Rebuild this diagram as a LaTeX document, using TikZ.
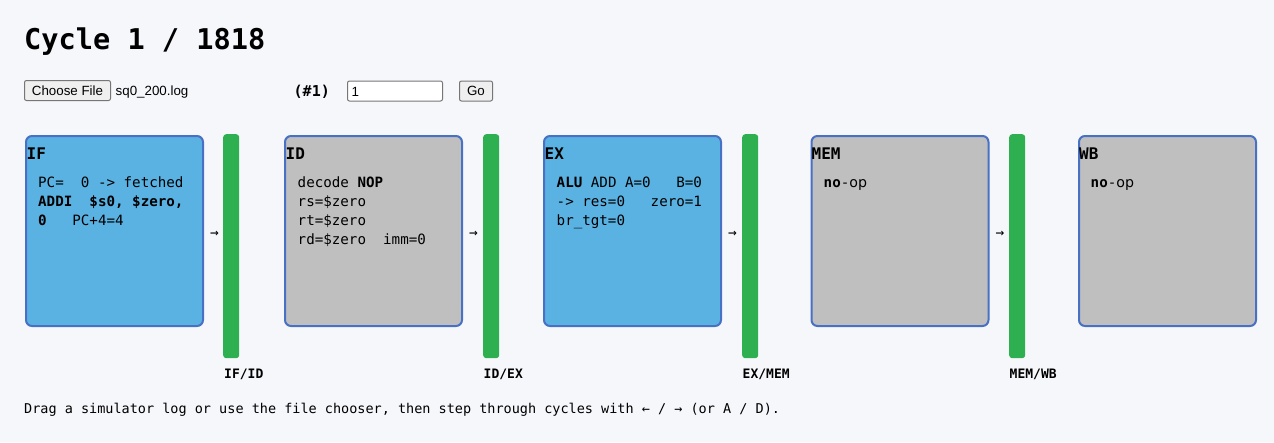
\documentclass[tikz,border=0pt]{standalone}
\usepackage{fontspec}
\usepackage{tikz}
\setmainfont{DejaVu Sans Mono}
\setmonofont{DejaVu Sans Mono}
\setsansfont{DejaVu Sans}
\newfontfamily\uifont{Liberation Sans}
\definecolor{pagebg}{RGB}{246,247,251}
\definecolor{stageblue}{RGB}{90,178,226}
\definecolor{stagegray}{RGB}{191,191,191}
\definecolor{stageedge}{RGB}{72,112,196}
\definecolor{regreen}{RGB}{46,176,80}
\definecolor{btnfill}{RGB}{239,239,239}
\definecolor{btnedge}{RGB}{118,118,118}

\begin{document}
\begin{tikzpicture}[x=1pt,y=-1pt,
	stagebox/.style={draw=stageedge, line width=2pt, rounded corners=6pt, anchor=north west, inner sep=0pt, minimum width=177pt, minimum height=190pt},
	pipereg/.style={fill=regreen, rounded corners=3pt, anchor=north west, inner sep=0pt, minimum width=16pt, minimum height=224pt},
	txt/.style={anchor=base west, inner sep=0pt},
	stagehead/.style={txt, font=\fontsize{16}{19}\selectfont\bfseries},
	stagebody/.style={txt, align=left, font=\fontsize{14.2}{19}\selectfont},
	reglabel/.style={txt, font=\fontsize{13}{16}\selectfont\bfseries},
	passarrow/.style={inner sep=0pt, font=\fontsize{14.5}{16}\selectfont},
	uibtn/.style={draw=btnedge, fill=btnfill, line width=1pt, rounded corners=2pt, inner sep=0pt, font=\uifont\fontsize{13.33}{16}\selectfont},
	uitxt/.style={txt, font=\uifont\fontsize{13.33}{16}\selectfont}]
	\fill[pagebg] (0,0) rectangle (1274,442);
	
	\node[txt, font=\fontsize{28.6}{32}\selectfont\bfseries] (title) at (24,49.5) {Cycle 1 / 1818};
	
	%-------------------------------------
	\node[uibtn, minimum width=86pt, minimum height=20pt] (choose) at (67.5,90.5) {Choose File};
	\node[uitxt] (logname) at (115.5,95.5) {sq0\_200.log};
	\node[txt, font=\fontsize{15}{17}\selectfont\bfseries] (cyclenum) at (293.5,96.5) {(\#1)};
	\node[uibtn, fill=white, minimum width=95pt, minimum height=20pt] (jumpbox) at (395,91) {};
	\node[uitxt] (jumpval) at (351.5,96) {1};
	\node[uibtn, minimum width=33pt, minimum height=20pt] (go) at (476,91) {Go};
	
	%-------------------------------------
	\node[stagebox, fill=stageblue] (IF) at (25,135) {};
	\node[stagebox, fill=stagegray] (ID) at (284,135) {};
	\node[stagebox, fill=stageblue] (EX) at (543,135) {};
	\node[stagebox, fill=stagegray] (MEM) at (810.5,135) {};
	\node[stagebox, fill=stagegray] (WB) at (1078,135) {};
	
	\node[pipereg] (ifid) at (223,134) {};
	\node[pipereg] (idex) at (483,134) {};
	\node[pipereg] (exmem) at (742,134) {};
	\node[pipereg] (memwb) at (1009,134) {};
	
	\node[passarrow] (a1) at (214.5,234) {→};
	\node[passarrow] (a2) at (473.5,234) {→};
	\node[passarrow] (a3) at (732.5,234) {→};
	\node[passarrow] (a4) at (1000,234) {→};
	
	\node[reglabel] (ifidlab) at (224,378) {IF/ID};
	\node[reglabel] (idexlab) at (483.5,378) {ID/EX};
	\node[reglabel] (exmemlab) at (742.5,378) {EX/MEM};
	\node[reglabel] (memwblab) at (1009.5,378) {MEM/WB};
	
	%-------------------------------------
	\node[stagehead] (IFh) at (26.5,159) {IF};
	\node[stagehead] (IDh) at (285.5,159) {ID};
	\node[stagehead] (EXh) at (544.5,159) {EX};
	\node[stagehead] (MEMh) at (811.5,159) {MEM};
	\node[stagehead] (WBh) at (1079,159) {WB};
	
	% base of a multi-line node is its last line
	\node[stagebody] (IFb) at (38,225) {PC=\ \ 0 -> fetched\\ \textbf{ADDI\ \ \$s0, \$zero,}\\ \textbf{0}\ \ \ PC+4=4};
	\node[stagebody] (IDb) at (297.5,244) {decode \textbf{NOP}\\ rs=\$zero\\ rt=\$zero\\ rd=\$zero\ \ imm=0};
	\node[stagebody] (EXb) at (556.5,225) {\textbf{ALU} ADD A=0\ \ \ B=0\\ -> res=0\ \ \ zero=1\\ br\_tgt=0};
	\node[stagebody] (MEMb) at (823.5,187) {\textbf{no}-{\sffamily op}};
	\node[stagebody] (WBb) at (1090.5,187) {\textbf{no}-{\sffamily op}};
	
	%-------------------------------------
	\node[txt, font=\fontsize{13.5}{16}\selectfont] (hint) at (24,413.5) {Drag a simulator log or use the file chooser, then step through cycles with ← / → (or A / D).};
\end{tikzpicture}
\end{document}
